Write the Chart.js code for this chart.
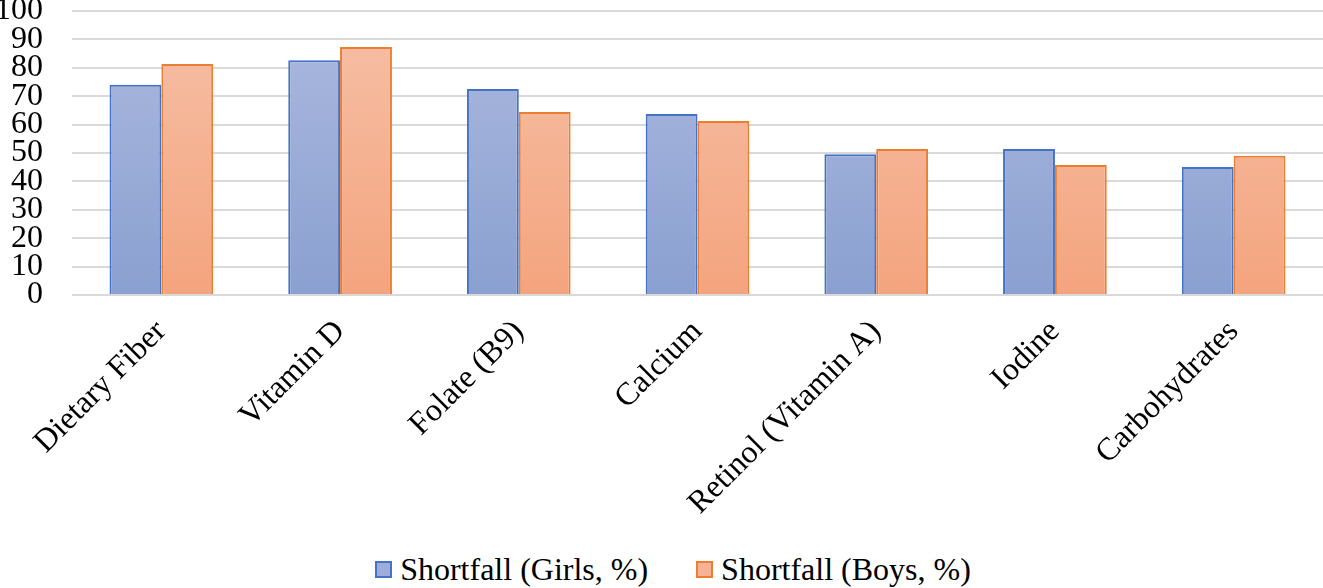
<!DOCTYPE html>
<html>
<head>
<meta charset="utf-8">
<script src="https://cdn.jsdelivr.net/npm/chart.js@4"></script>
<style>
  html, body { margin: 0; padding: 0; background: #fff; }
  #wrap { position: relative; width: 1323px; height: 550px; }
  #legend { height: 38px; display: flex; justify-content: center; align-items: center; padding-left: 23px;
    font-family: "Liberation Serif", "Times New Roman", serif; font-size: 32px; color: #000; }
  .item { display: flex; align-items: center; margin: 0 24px; }
  .box { width: 13px; height: 13px; margin-right: 8px; border: 2px solid; }
</style>
</head>
<body>
<div id="wrap"><canvas id="bars"></canvas></div>
<div id="legend">
  <div class="item"><span class="box" style="background:#9badd8;border-color:#4472c4"></span>Shortfall (Girls, %)</div>
  <div class="item"><span class="box" style="background:#f5b294;border-color:#ed7d31"></span>Shortfall (Boys, %)</div>
</div>
<script>
var nutrients = ['Dietary Fiber', 'Vitamin D', 'Folate (B9)', 'Calcium', 'Retinol (Vitamin A)', 'Iodine', 'Carbohydrates'];
var girls = [74, 82.7, 72.5, 63.7, 49.6, 51.4, 45.1];
var boys = [81.3, 87.3, 64.4, 61.3, 51.4, 45.8, 49];
var yTicks = [0, 10, 20, 30, 40, 50, 60, 70, 80, 90, 100];

function grad(top, bottom) {
    return function (c) {
        var area = c.chart.chartArea;
        if (!area) return bottom;
        var g = c.chart.ctx.createLinearGradient(0, area.top, 0, area.bottom);
        g.addColorStop(0, top);
        g.addColorStop(1, bottom);
        return g;
    };
}

var serif = '"Liberation Serif", "Times New Roman", serif';
var ctx = document.getElementById('bars').getContext('2d');
var myChart = new Chart(ctx, {
    type: 'bar',
    data: {
        labels: nutrients,
        datasets: [{
            label: 'Shortfall (Girls, %)',
            data: girls,
            backgroundColor: grad('#acb9df', '#8aa0d0'),
            borderColor: '#4472c4',
            borderWidth: 2
        }, {
            label: 'Shortfall (Boys, %)',
            data: boys,
            backgroundColor: grad('#f6c0a7', '#f4a47e'),
            borderColor: '#ed7d31',
            borderWidth: 2
        }]
    },
    options: {
        responsive: true,
        maintainAspectRatio: false,
        animation: false,
        barPercentage: 1.0,
        categoryPercentage: 0.58,
        layout: { padding: { top: 11, right: 0, left: 0, bottom: 0 } },
        plugins: {
            legend: { display: false },
            tooltip: { enabled: false }
        },
        scales: {
            x: {
                grid: { display: false },
                border: { display: false },
                ticks: {
                    color: '#000',
                    font: { family: serif, size: 32 },
                    minRotation: 45,
                    maxRotation: 45,
                    autoSkip: false,
                    padding: 10
                },
                afterFit: function (axis) {
                    axis.height = 255;
                    axis.paddingLeft = 0;
                    axis.paddingRight = 0;
                }
            },
            y: {
                min: 0,
                max: 100,
                ticks: {
                    color: '#000',
                    font: { family: serif, size: 32 },
                    padding: 29,
                    stepSize: 10,
                    autoSkip: false
                },
                afterBuildTicks: function (axis) {
                    axis.ticks = yTicks.map(function (v) { return { value: v }; });
                },
                grid: { color: '#d9d9d9', lineWidth: 2, drawTicks: false },
                border: { display: false },
                afterFit: function (axis) {
                    axis.width = 72;
                    axis.paddingTop = 0;
                    axis.paddingBottom = 0;
                }
            }
        }
    }
});
</script>
</body>
</html>
